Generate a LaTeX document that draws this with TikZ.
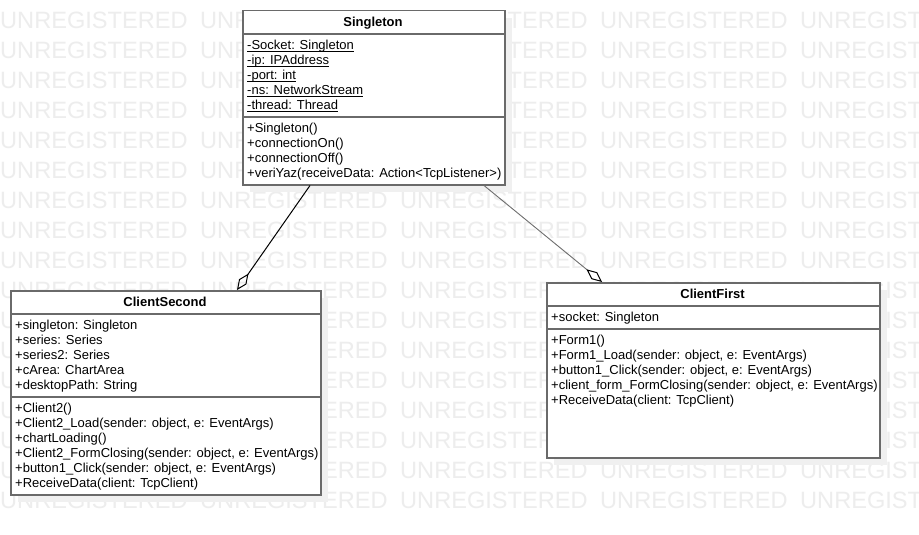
\documentclass[tikz,border=0pt]{standalone}
\usepackage{fontspec}
\setmainfont{Liberation Sans}
\usetikzlibrary{arrows.meta,calc}
\definecolor{wmgray}{HTML}{EDEDED}
\definecolor{boxborder}{HTML}{6A6A6A}
\definecolor{shadowgray}{HTML}{F0F0F0}
\definecolor{linegray}{HTML}{6E6E6E}
\newsavebox{\umbox}
\newcommand{\umember}[1]{\sbox{\umbox}{#1}\rlap{\usebox{\umbox}}\rule[-1.9pt]{\wd\umbox}{0.8pt}}
\begin{document}
\begin{tikzpicture}[x=1pt,y=-1pt,
  classbox/.style={draw=boxborder, line width=1.5pt, fill=white, inner sep=0pt, anchor=north west},
  shadowbox/.style={fill=shadowgray, draw=none, inner sep=0pt, anchor=north west},
  divider/.style={draw=boxborder, line width=1.2pt},
  ctitle/.style={font=\fontsize{13}{15}\selectfont\bfseries, inner sep=0pt, anchor=base},
  member/.style={font=\fontsize{13}{15}\selectfont, inner sep=0pt, anchor=base west},
  wmark/.style={font=\fontsize{23.6}{28}\selectfont, text=wmgray, inner sep=0pt, anchor=base west},
  agg/.style={-{Diamond[open,length=20pt,width=9pt,line width=1pt,color=black]}}
]
\useasboundingbox (0,0) rectangle (919,535);
\fill[white] (0,0) rectangle (919,535);
% watermark
\begin{scope}
\clip (0,0) rectangle (919,535);
\foreach \r in {0,...,16}
  \foreach \c in {0,...,4}
    \node[wmark] (wm-\r-\c) at ({200*\c}, {28.3+30*\r}) {UNREGISTERED};
\end{scope}
% ---------------- Singleton ----------------
\node[shadowbox, minimum width=262pt, minimum height=174pt] (S-shadow) at (250,18) {};
\node[classbox, minimum width=262pt, minimum height=174pt] (S) at (242,10) {};
\draw[divider] (S.west |- 0,34) -- (S.east |- 0,34);
\draw[divider] (S.west |- 0,117) -- (S.east |- 0,117);
\node[ctitle] (S-name) at (373,26.7) {Singleton};
\foreach \t [count=\i] in {{-Socket: Singleton},{-ip: IPAddress},{-port: int},{-ns: NetworkStream},{-thread: Thread}}
  \node[member] (S-a\i) at (247,{49.7+15*(\i-1)}) {\umember{\t}};
\foreach \t [count=\i] in {{+Singleton()},{+connectionOn()},{+connectionOff()},{+veriYaz(receiveData: Action<TcpListener>)}}
  \node[member] (S-m\i) at (247,{132.7+15*(\i-1)}) {\t};
% ---------------- ClientSecond ----------------
\node[shadowbox, minimum width=310pt, minimum height=204pt] (CS-shadow) at (18,298) {};
\node[classbox, minimum width=310pt, minimum height=204pt] (CS) at (10,290) {};
\draw[divider] (CS.west |- 0,314) -- (CS.east |- 0,314);
\draw[divider] (CS.west |- 0,397) -- (CS.east |- 0,397);
\node[ctitle] (CS-name) at (165,306.7) {ClientSecond};
\foreach \t [count=\i] in {{+singleton: Singleton},{+series: Series},{+series2: Series},{+cArea: ChartArea},{+desktopPath: String}}
  \node[member] (CS-a\i) at (15,{329.7+15*(\i-1)}) {\t};
\foreach \t [count=\i] in {{+Client2()},{+Client2\_Load(sender: object, e: EventArgs)},{+chartLoading()},{+Client2\_FormClosing(sender: object, e: EventArgs)},{+button1\_Click(sender: object, e: EventArgs)},{+ReceiveData(client: TcpClient)}}
  \node[member] (CS-m\i) at (15,{412.7+15*(\i-1)}) {\t};
% ---------------- ClientFirst ----------------
\node[shadowbox, minimum width=333pt, minimum height=175pt] (CF-shadow) at (554,290) {};
\node[classbox, minimum width=333pt, minimum height=175pt] (CF) at (546,282) {};
\draw[divider] (CF.west |- 0,306) -- (CF.east |- 0,306);
\draw[divider] (CF.west |- 0,329) -- (CF.east |- 0,329);
\node[ctitle] (CF-name) at (712.5,298.7) {ClientFirst};
\node[member] (CF-a1) at (551,321.7) {+socket: Singleton};
\foreach \t [count=\i] in {{+Form1()},{+Form1\_Load(sender: object, e: EventArgs)},{+button1\_Click(sender: object, e: EventArgs)},{+client\_form\_FormClosing(sender: object, e: EventArgs)},{+ReceiveData(client: TcpClient)}}
  \node[member] (CF-m\i) at (551,{344.7+15*(\i-1)}) {\t};
% ---------------- connectors ----------------
\coordinate (S-p1) at ($(S.south west)+(68,0)$);
\coordinate (S-p2) at ($(S.south west)+(242,0)$);
\coordinate (CS-p1) at ($(CS.north west)+(227,0)$);
\coordinate (CF-p1) at ($(CF.north west)+(56,0)$);
\draw[agg, black, line width=1pt] (S-p1) -- (CS-p1);
\draw[agg, linegray, line width=0.9pt] (S-p2) -- (CF-p1);
\end{tikzpicture}
\end{document}
